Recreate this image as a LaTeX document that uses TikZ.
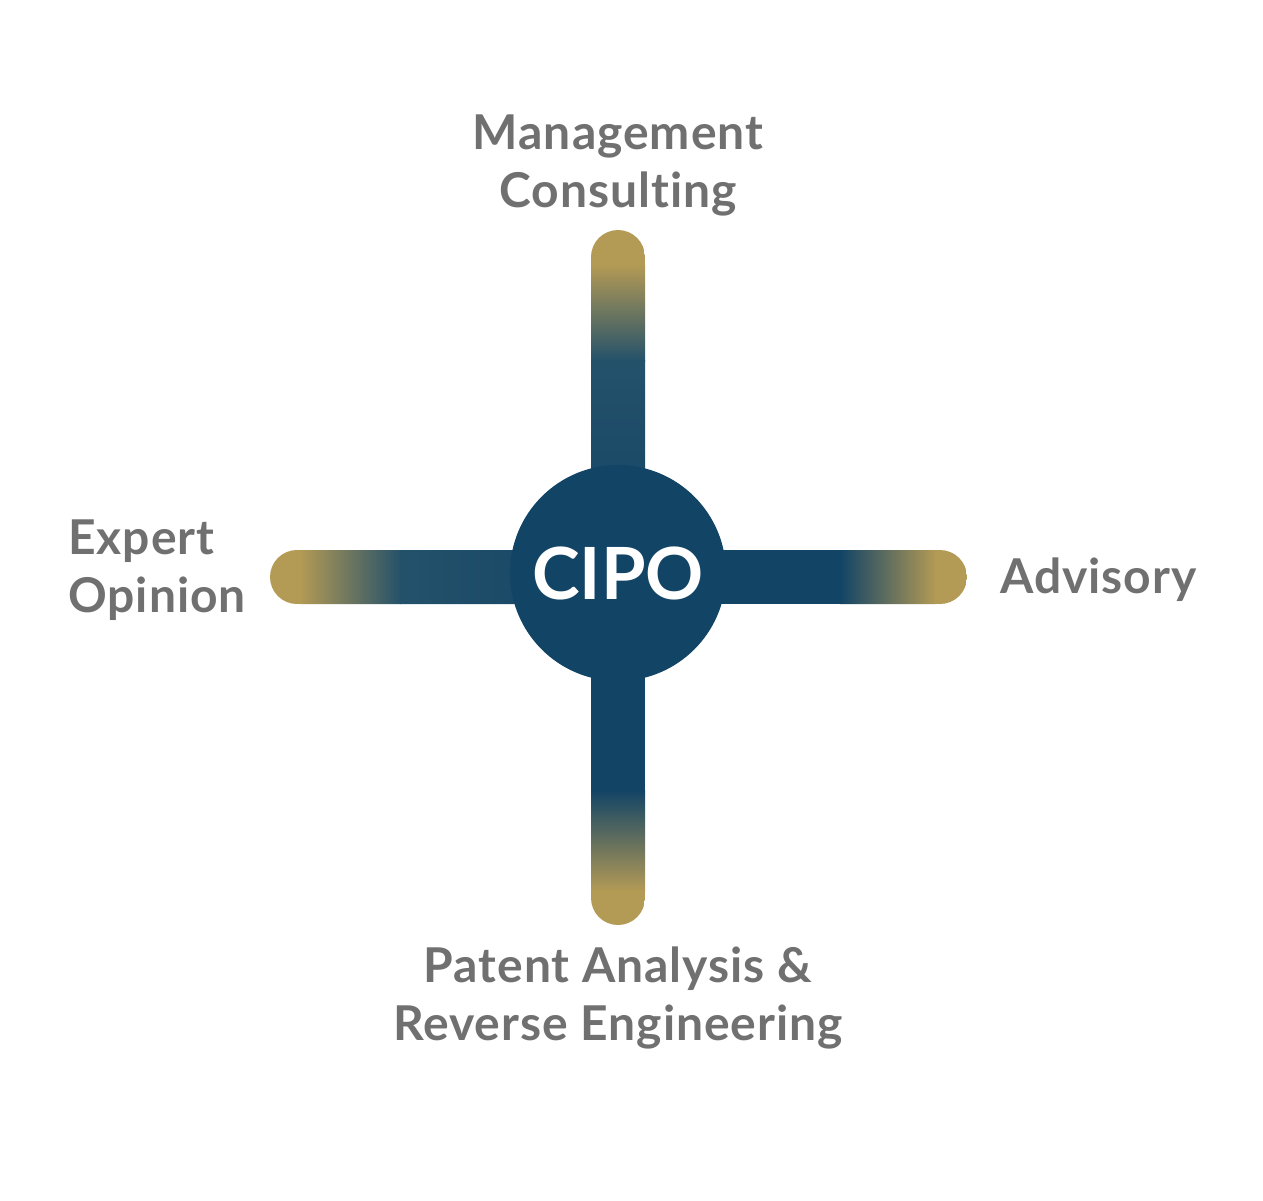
\documentclass[tikz,border=0pt]{standalone}
\usepackage{fontspec}
\setmainfont{Lato}[Ligatures=NoCommon]
\usepackage{tikz}
\usetikzlibrary{positioning}
\definecolor{cipoblue}{RGB}{18,68,102}
\definecolor{armblue}{RGB}{36,81,106}
\definecolor{cipogold}{RGB}{179,154,85}
\definecolor{labelgray}{RGB}{112,112,112}

\begin{document}
\begin{tikzpicture}[x=0.5pt, y=-0.5pt,
  lbl/.style={text=labelgray, font=\fontsize{24}{29}\selectfont\bfseries\addfontfeatures{LetterSpace=2}, inner sep=0pt},
  hub/.style={circle, fill=cipoblue, minimum size=108pt, inner sep=0pt, text=white, font=\fontsize{36}{36}\selectfont\bfseries}
]
  \useasboundingbox[fill=white] (0,0) rectangle (1263,1200);
  % vertical arm
  \begin{scope}
    \clip[rounded corners=13.5pt] (591,230) rectangle (645,925);
    \fill[cipogold] (591,230) rectangle (645,266);
    \shade[top color=cipogold, bottom color=armblue] (591,265) rectangle (645,361);
    \shade[top color=armblue, bottom color=cipoblue] (591,360) rectangle (645,574);
    \fill[cipoblue] (591,573) rectangle (645,791);
    \shade[top color=cipoblue, bottom color=cipogold] (591,790) rectangle (645,891);
    \fill[cipogold] (591,890) rectangle (645,925);
  \end{scope}
  % horizontal arm
  \begin{scope}
    \clip[rounded corners=13.5pt] (270,550) rectangle (967,604);
    \fill[cipogold] (270,550) rectangle (301,604);
    \shade[left color=cipogold, right color=armblue] (300,550) rectangle (401,604);
    \shade[left color=armblue, right color=cipoblue] (400,550) rectangle (619,604);
    \fill[cipoblue] (618,550) rectangle (841,604);
    \shade[left color=cipoblue, right color=cipogold] (840,550) rectangle (936,604);
    \fill[cipogold] (935,550) rectangle (967,604);
  \end{scope}
  \node[hub] (cipo) at (618,573) {CIPO};
  % labels (anchor base = last line)
  \node[lbl, align=center, anchor=base] (mgmt) at (618,207) {Management\\Consulting};
  \node[lbl, align=left, anchor=base west] (expert) at (68,612) {Expert\\Opinion};
  \node[lbl, anchor=base west] (advisory) at (1000,593) {Advisory};
  \node[lbl, align=center, anchor=base] (patent) at (618,1040) {Patent Analysis \&\\Reverse Engineering};
\end{tikzpicture}
\end{document}
